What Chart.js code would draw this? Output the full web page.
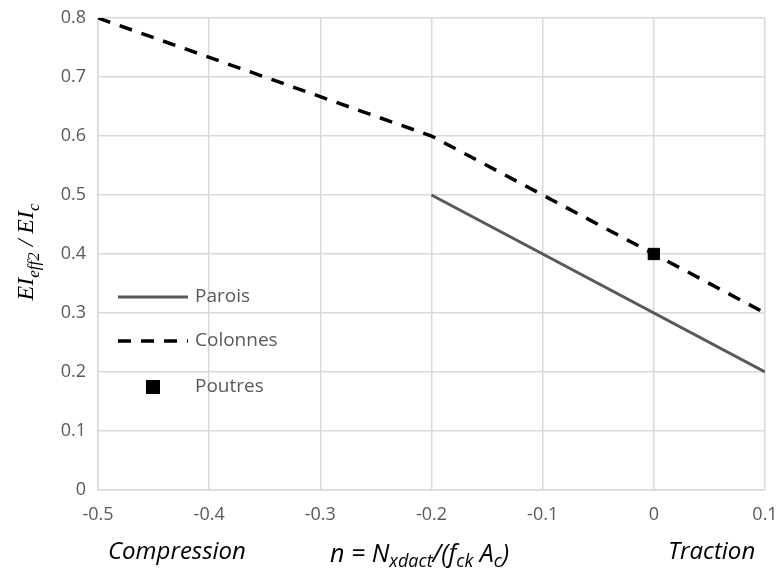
<!DOCTYPE html>
<html>
<head>
<meta charset="utf-8">
<script src="https://cdn.jsdelivr.net/npm/chart.js@4"></script>
<style>
  html, body { margin: 0; padding: 0; background: #fff; }
  #wrap { width: 781px; height: 572px; }
</style>
</head>
<body>
<div id="wrap"><canvas id="chart" width="781" height="572"></canvas></div>
<script>
// data
const parois_x = [-0.2, 0.1];
const parois_y = [0.5, 0.2];
const colonnes_x = [-0.5, -0.2, 0.1];
const colonnes_y = [0.8, 0.6, 0.3];
const poutres_x = [0];
const poutres_y = [0.4];
const legendNames = ['Parois', 'Colonnes', 'Poutres'];

const gray = '#595959';
const font = '"Open Sans", sans-serif';

function pts(xs, ys) {
  return xs.map((x, i) => ({ x: x, y: ys[i] }));
}

// legend + axis titles drawn by hand (subscripts, legend inside the plot)
const extras = {
  id: 'extras',
  afterDraw(chart) {
    const ctx = chart.ctx;
    ctx.save();

    // legend
    const rows = [297, 341, 387];
    chart.data.datasets.forEach((ds, i) => {
      const y = rows[i];
      if (ds.showLine) {
        ctx.beginPath();
        ctx.strokeStyle = ds.borderColor;
        ctx.lineWidth = ds.borderWidth;
        ctx.setLineDash(ds.borderDash || []);
        ctx.moveTo(118, y);
        ctx.lineTo(188, y);
        ctx.stroke();
        ctx.setLineDash([]);
      } else {
        ctx.fillStyle = ds.pointBackgroundColor;
        ctx.fillRect(146, y - 7, 14, 14);
      }
      ctx.fillStyle = gray;
      ctx.font = '19px ' + font;
      ctx.textBaseline = 'middle';
      ctx.textAlign = 'left';
      ctx.fillText(legendNames[i], 195, y);
    });

    // x axis titles
    ctx.fillStyle = '#000';
    ctx.textBaseline = 'alphabetic';
    ctx.font = 'italic 24px ' + font;
    ctx.fillText('Compression', 108, 559);
    ctx.fillText('Traction', 668, 559);

    let x = 330;
    const parts = [
      ['n = N', 25, 0], ['xdact', 18, 5], ['/(f', 25, 0], ['ck', 18, 5],
      [' A', 25, 0], ['c', 18, 5], [')', 25, 0]
    ];
    parts.forEach(p => {
      ctx.font = 'italic ' + p[1] + 'px ' + font;
      ctx.fillText(p[0], x, 562 + p[2]);
      x += ctx.measureText(p[0]).width;
    });

    // y axis title, rotated
    ctx.translate(33, 252);
    ctx.rotate(-Math.PI / 2);
    const yparts = [
      ['EI', 24, 0], ['eff2', 17, 6], [' / EI', 24, 0], ['c', 17, 6]
    ];
    const serif = 'px "Liberation Serif", serif';
    let w = 0;
    yparts.forEach(p => {
      ctx.font = 'italic ' + p[1] + serif;
      w += ctx.measureText(p[0]).width;
    });
    x = -w / 2;
    yparts.forEach(p => {
      ctx.font = 'italic ' + p[1] + serif;
      ctx.fillText(p[0], x, p[2]);
      x += ctx.measureText(p[0]).width;
    });
    ctx.restore();
  }
};

new Chart(document.getElementById('chart'), {
  type: 'scatter',
  data: {
    datasets: [
      {
        label: 'Parois',
        data: pts(parois_x, parois_y),
        showLine: true,
        borderColor: gray,
        borderWidth: 3,
        pointRadius: 0
      },
      {
        label: 'Colonnes',
        data: pts(colonnes_x, colonnes_y),
        showLine: true,
        borderColor: '#000',
        borderWidth: 3.5,
        borderDash: [13, 10],
        pointRadius: 0
      },
      {
        label: 'Poutres',
        data: pts(poutres_x, poutres_y),
        showLine: false,
        pointStyle: 'rect',
        pointRadius: 8,
        pointBackgroundColor: '#000',
        pointBorderColor: '#000'
      }
    ]
  },
  options: {
    responsive: false,
    animation: false,
    layout: { padding: { top: 18, right: 16, left: 0, bottom: 0 } },
    plugins: {
      legend: { display: false },
      tooltip: { enabled: false }
    },
    scales: {
      x: {
        type: 'linear',
        min: -0.5,
        max: 0.1,
        afterFit: s => { s.height = 82; s.paddingLeft = 0; s.paddingRight = 0; },
        grid: { color: '#d9d9d9', lineWidth: 1.5, drawTicks: false },
        border: { color: '#d9d9d9', width: 1.5 },
        ticks: {
          stepSize: 0.1,
          padding: 14,
          color: gray,
          font: { family: font, size: 18 },
          callback: v => Math.round(v * 10) / 10
        }
      },
      y: {
        min: 0,
        max: 0.8,
        afterFit: s => { s.width = 98; s.paddingTop = 0; s.paddingBottom = 0; },
        grid: { color: '#d9d9d9', lineWidth: 1.5, drawTicks: false },
        border: { color: '#d9d9d9', width: 1.5 },
        ticks: {
          stepSize: 0.1,
          padding: 12,
          color: gray,
          font: { family: font, size: 18 },
          callback: v => Math.round(v * 10) / 10
        }
      }
    }
  },
  plugins: [extras]
});
</script>
</body>
</html>
